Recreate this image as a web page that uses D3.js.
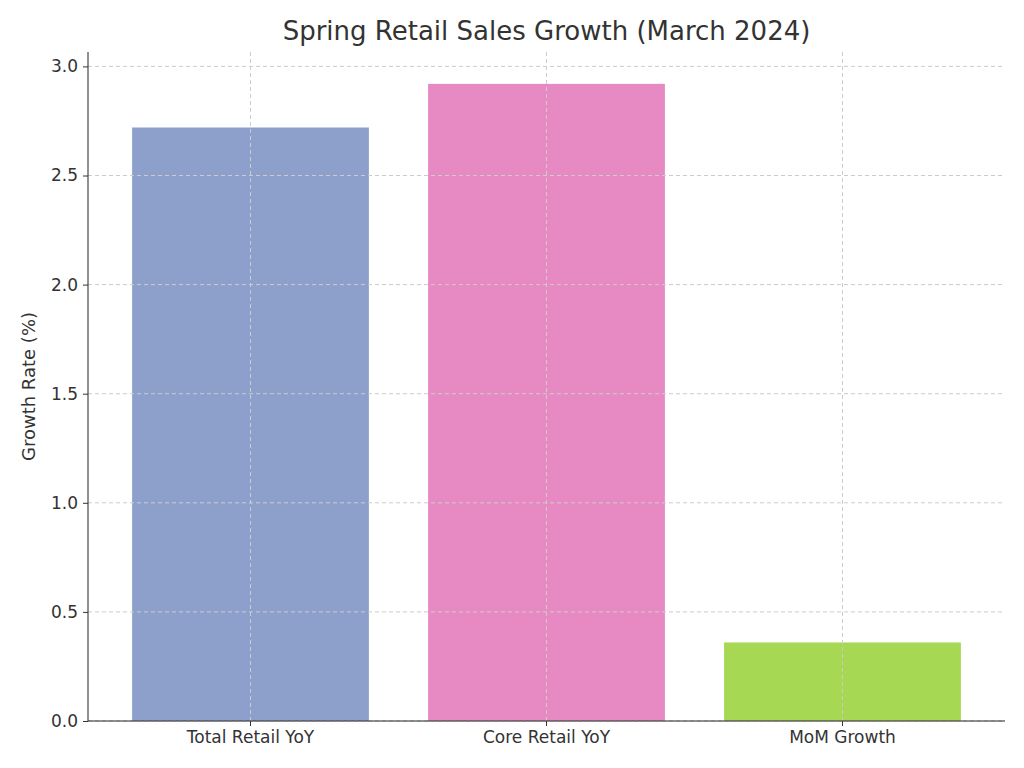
<!DOCTYPE html><html><head><meta charset="utf-8"><script src="https://cdn.jsdelivr.net/npm/d3@7"></script>
<style>body{margin:0;background:#fff}text{font-family:"DejaVu Sans",sans-serif;fill:#333}</style></head><body>
<svg id="c" width="1024" height="768"></svg>
<script>
const categories=["Total Retail YoY","Core Retail YoY","MoM Growth"];
const values=[2.72,2.92,0.36];
const colors=["#8da0cb","#e78ac3","#a6d854"];
const yTicks=[0,0.5,1.0,1.5,2.0,2.5,3.0];
const svg=d3.select("#c");
const L=88,R=1005,T=52,B=721;
const x=d3.scaleBand().domain(categories).range([L,R]).paddingInner(0.2).paddingOuter(0.149);
const y=d3.scaleLinear().domain([0,3.066]).range([B,T]);
svg.selectAll("rect.bar").data(values).join("rect").attr("x",(d,i)=>x(categories[i])).attr("width",x.bandwidth())
 .attr("y",d=>y(d)).attr("height",d=>B-y(d)).attr("fill",(d,i)=>colors[i]);
const g=svg.append("g");
g.selectAll("line.h").data(yTicks).join("line").attr("x1",L).attr("x2",R).attr("y1",d=>y(d)).attr("y2",d=>y(d)).attr("stroke","#ccc").attr("stroke-dasharray","4,3");
g.selectAll("line.v").data(categories).join("line").attr("y1",T).attr("y2",B).attr("x1",d=>x(d)+x.bandwidth()/2).attr("x2",d=>x(d)+x.bandwidth()/2).attr("stroke","#ccc").attr("stroke-dasharray","4,3");
const ya=svg.append("g").attr("transform",`translate(${L},0)`).call(d3.axisLeft(y).tickValues(yTicks).tickFormat(d3.format(".1f")).tickSize(5).tickPadding(5));
const xa=svg.append("g").attr("transform",`translate(0,${B})`).call(d3.axisBottom(x).tickSize(5).tickPadding(5));
[ya,xa].forEach(a=>{a.selectAll("text").style("font-size","17px").style("font-family","DejaVu Sans").attr("fill","#333");a.selectAll("line,path").attr("stroke","#333");});
svg.selectAll(".domain").attr("stroke","#222");
ya.select(".domain").attr("d",`M0,${T}V${B}`);
xa.select(".domain").attr("d",`M${L},0H${R}`);
svg.append("text").attr("x",(L+R)/2).attr("y",40).attr("text-anchor","middle").style("font-size","26px").text("Spring Retail Sales Growth (March 2024)");
svg.append("text").attr("transform",`translate(35,${(T+B)/2}) rotate(-90)`).attr("text-anchor","middle").style("font-size","18px").text("Growth Rate (%)");
</script></body></html>
